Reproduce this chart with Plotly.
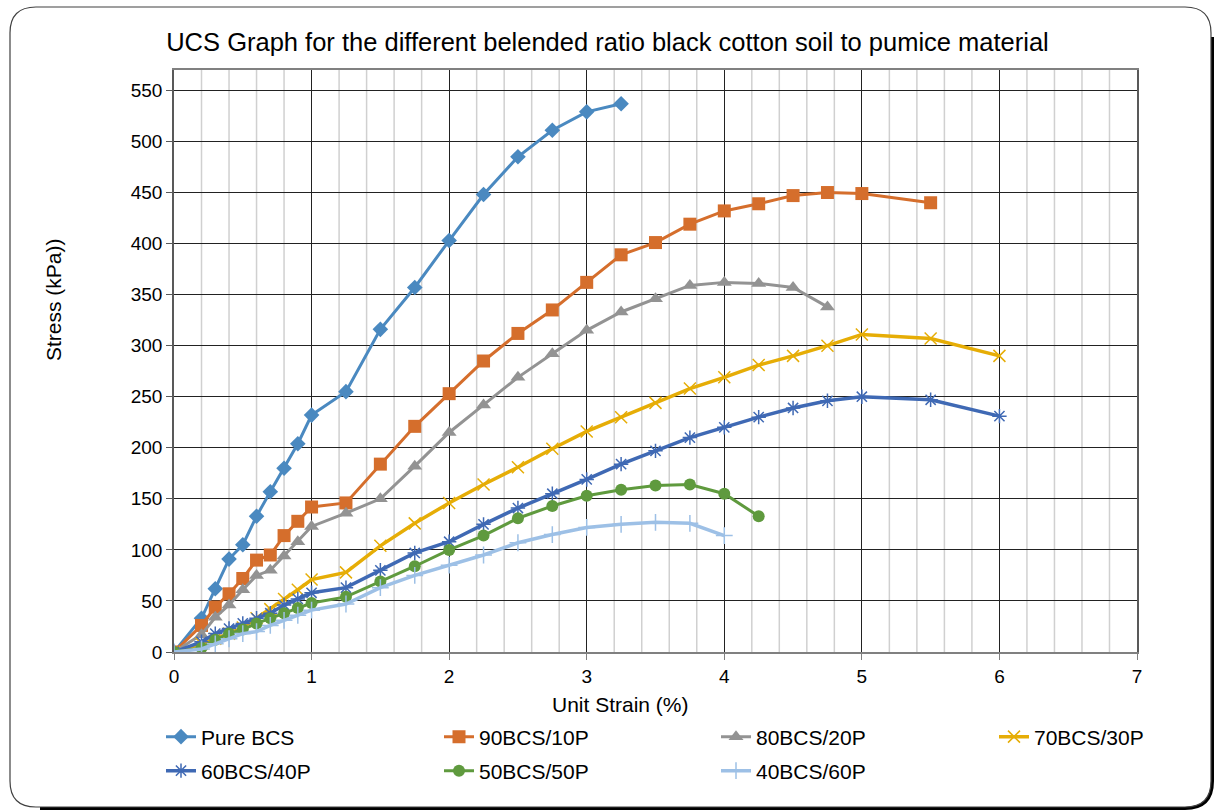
import plotly.graph_objects as go

# ---------------- data ----------------
strain_pure = [0, 0.2, 0.3, 0.4, 0.5, 0.6, 0.7, 0.8, 0.9, 1.0, 1.25, 1.5, 1.75, 2.0, 2.25, 2.5, 2.75, 3.0, 3.25]
stress_pure = [0, 33, 62, 91, 105, 133, 157, 180, 204, 232, 255, 316, 357, 403, 448, 485, 511, 529, 537]

strain_90 = [0, 0.2, 0.3, 0.4, 0.5, 0.6, 0.7, 0.8, 0.9, 1.0, 1.25, 1.5, 1.75, 2.0, 2.25, 2.5, 2.75, 3.0,
             3.25, 3.5, 3.75, 4.0, 4.25, 4.5, 4.75, 5.0, 5.5]
stress_90 = [0, 26, 44, 57, 72, 90, 95, 114, 128, 142, 146, 184, 221, 253, 285, 312, 335, 362,
             389, 401, 419, 432, 439, 447, 450, 449, 440]

strain_80 = [0, 0.2, 0.3, 0.4, 0.5, 0.6, 0.7, 0.8, 0.9, 1.0, 1.25, 1.5, 1.75, 2.0, 2.25, 2.5, 2.75, 3.0,
             3.25, 3.5, 3.75, 4.0, 4.25, 4.5, 4.75]
stress_80 = [0, 17, 34, 46, 61, 75, 80, 94, 108, 123, 136, 150, 182, 215, 242, 269, 292, 315,
             333, 346, 359, 362, 361, 357, 338]

strain_70 = [0, 0.2, 0.3, 0.4, 0.5, 0.6, 0.7, 0.8, 0.9, 1.0, 1.25, 1.5, 1.75, 2.0, 2.25, 2.5, 2.75, 3.0,
             3.25, 3.5, 3.75, 4.0, 4.25, 4.5, 4.75, 5.0, 5.5, 6.0]
stress_70 = [0, 8, 13, 18, 24, 33, 42, 52, 61, 71, 78, 104, 126, 146, 164, 181, 199, 216,
             230, 244, 258, 269, 281, 290, 300, 311, 307, 290]

strain_60 = [0, 0.2, 0.3, 0.4, 0.5, 0.6, 0.7, 0.8, 0.9, 1.0, 1.25, 1.5, 1.75, 2.0, 2.25, 2.5, 2.75, 3.0,
             3.25, 3.5, 3.75, 4.0, 4.25, 4.5, 4.75, 5.0, 5.5, 6.0]
stress_60 = [0, 10, 18, 23, 28, 33, 38, 46, 52, 58, 63, 80, 97, 108, 125, 141, 155, 169,
             184, 197, 210, 220, 230, 239, 246, 250, 247, 231]

strain_50 = [0, 0.2, 0.3, 0.4, 0.5, 0.6, 0.7, 0.8, 0.9, 1.0, 1.25, 1.5, 1.75, 2.0, 2.25, 2.5, 2.75, 3.0,
             3.25, 3.5, 3.75, 4.0, 4.25]
stress_50 = [0, 4, 12, 18, 22, 28, 33, 38, 43, 48, 54, 69, 84, 100, 114, 131, 143, 153,
             159, 163, 164, 155, 133]

strain_40 = [0, 0.2, 0.3, 0.4, 0.5, 0.6, 0.7, 0.8, 0.9, 1.0, 1.25, 1.5, 1.75, 2.0, 2.25, 2.5, 2.75, 3.0,
             3.25, 3.5, 3.75, 4.0]
stress_40 = [0, 3, 8, 13, 18, 20, 26, 31, 36, 41, 47, 63, 75, 85, 95, 107, 115, 122,
             125, 127, 126, 114]

x_ticks = [0, 1, 2, 3, 4, 5, 6, 7]
y_ticks = [0, 50, 100, 150, 200, 250, 300, 350, 400, 450, 500, 550]

# ---------------- figure ----------------
FONT = "Liberation Sans, Arial, sans-serif"
W, H = 1215, 811
ML, MR, MT, MB = 174, 78, 70, 159
PW, PH = W - ML - MR, H - MT - MB

def px(p):
    return (p - ML) / PW

def py(p):
    return (H - MB - p) / PH

# name, x, y, colour, marker, line width, legend text-x, legend row text-y
series = [
    ("Pure BCS", strain_pure, stress_pure, "#4a89c0", dict(symbol="diamond", size=12), 3, 203, 737),
    ("90BCS/10P", strain_90, stress_90, "#d56e2c", dict(symbol="square", size=13), 3, 481, 737),
    ("80BCS/20P", strain_80, stress_80, "#939393", dict(symbol="triangle-up", size=13), 3, 758, 737),
    ("70BCS/30P", strain_70, stress_70, "#e6ad06",
     dict(symbol="x-thin-open", size=12, line=dict(width=1.5, color="#e6ad06")), 3.5, 1036, 737),
    ("60BCS/40P", strain_60, stress_60, "#3f69b4",
     dict(symbol="asterisk-open", size=12, line=dict(width=1.5, color="#3f69b4")), 3.5, 203, 771),
    ("50BCS/50P", strain_50, stress_50, "#5f9a3e", dict(symbol="circle", size=12), 3, 481, 771),
    ("40BCS/60P", strain_40, stress_40, "#9dc0e6",
     dict(symbol="cross-thin-open", size=12, line=dict(width=1.5, color="#9dc0e6")), 3.5, 758, 771),
]

fig = go.Figure()
legends = {}
for i, (name, xs, ys, col, mk, lw, lx, ly) in enumerate(series):
    mk = dict(mk)
    mk["color"] = col
    lg = "legend" if i == 0 else f"legend{i + 1}"
    fig.add_trace(go.Scatter(x=xs, y=ys, name=name, mode="lines+markers", showlegend=True,
                             line=dict(color=col, width=lw), marker=mk, legend=lg))
    legends[lg] = dict(orientation="h", xanchor="left", yanchor="middle",
                       x=px(lx - 42), y=py(ly),
                       font=dict(family=FONT, size=21, color="black"),
                       bgcolor="rgba(0,0,0,0)", itemclick=False, itemdoubleclick=False)

# minor vertical grid every 0.2 strain units (drawn below the major gridlines)
minor_x = [round(k * 0.2, 1) for k in range(int(round(x_ticks[-1] / 0.2)) + 1)]
for mx in minor_x:
    if abs(mx - round(mx)) < 1e-9:
        continue
    fig.add_shape(type="line", xref="x", yref="paper", x0=mx, x1=mx, y0=0, y1=1,
                  line=dict(color="#d0d0d0", width=1.5), layer="below")

# rounded chart border
L, T, R, B, r = 10, 7, 1211, 807, 26
def P(x, y):
    return f"{px(x):.5f},{py(y):.5f}"
border = (f"M {P(L + r, T)} L {P(R - r, T)} Q {P(R, T)} {P(R, T + r)} L {P(R, B - r)} "
          f"Q {P(R, B)} {P(R - r, B)} L {P(L + r, B)} Q {P(L, B)} {P(L, B - r)} "
          f"L {P(L, T + r)} Q {P(L, T)} {P(L + r, T)} Z")
shadow = (f"M {P(R + 1.5, T + r + 4)} L {P(R + 1.5, B - r)} Q {P(R + 1.5, B + 1.5)} {P(R - r, B + 1.5)} "
          f"L {P(L + r + 4, B + 1.5)}")
fig.add_shape(type="path", path=shadow, xref="paper", yref="paper",
              line=dict(color="black", width=3), layer="above")
fig.add_shape(type="path", path=border, xref="paper", yref="paper",
              line=dict(color="#404040", width=1.2), layer="above")

# axis titles as annotations (positioned like the reference)
fig.add_annotation(text="Unit Strain (%)", x=px(620), y=py(705), xref="paper", yref="paper",
                   xanchor="center", yanchor="middle", showarrow=False,
                   font=dict(family=FONT, size=21, color="black"))
fig.add_annotation(text="Stress (kPa))", x=px(53), y=py(300), xref="paper", yref="paper",
                   xanchor="center", yanchor="middle", showarrow=False, textangle=-90,
                   font=dict(family=FONT, size=21, color="black"))

fig.update_layout(
    width=W, height=H,
    margin=dict(l=ML, r=MR, t=MT, b=MB),
    paper_bgcolor="white", plot_bgcolor="white",
    showlegend=True,
    font=dict(family=FONT, color="black"),
    title=dict(text="UCS Graph for the different belended ratio black cotton soil to pumice material",
               x=0.5, xanchor="center", y=1 - 42 / H, yanchor="middle",
               font=dict(family=FONT, size=25.5, color="black")),
    xaxis=dict(range=[x_ticks[0], x_ticks[-1]], tickmode="array", tickvals=x_ticks,
               ticktext=[str(v) for v in x_ticks],
               showgrid=True, gridcolor="#222222", gridwidth=1,
               showline=True, linecolor="#808080", linewidth=1.5, mirror=True,
               ticks="outside", ticklen=6, tickcolor="#808080",
               tickfont=dict(family=FONT, size=19, color="black"),
               zeroline=False),
    yaxis=dict(range=[0, 570], tickvals=y_ticks, ticktext=[str(v) for v in y_ticks],
               showgrid=True, gridcolor="#222222", gridwidth=1,
               showline=True, linecolor="#595959", linewidth=1.5, mirror=True,
               ticks="outside", ticklen=6, tickcolor="#595959",
               tickfont=dict(family=FONT, size=19, color="black"),
               zeroline=False),
    **legends,
)

fig.write_html("out.html")
